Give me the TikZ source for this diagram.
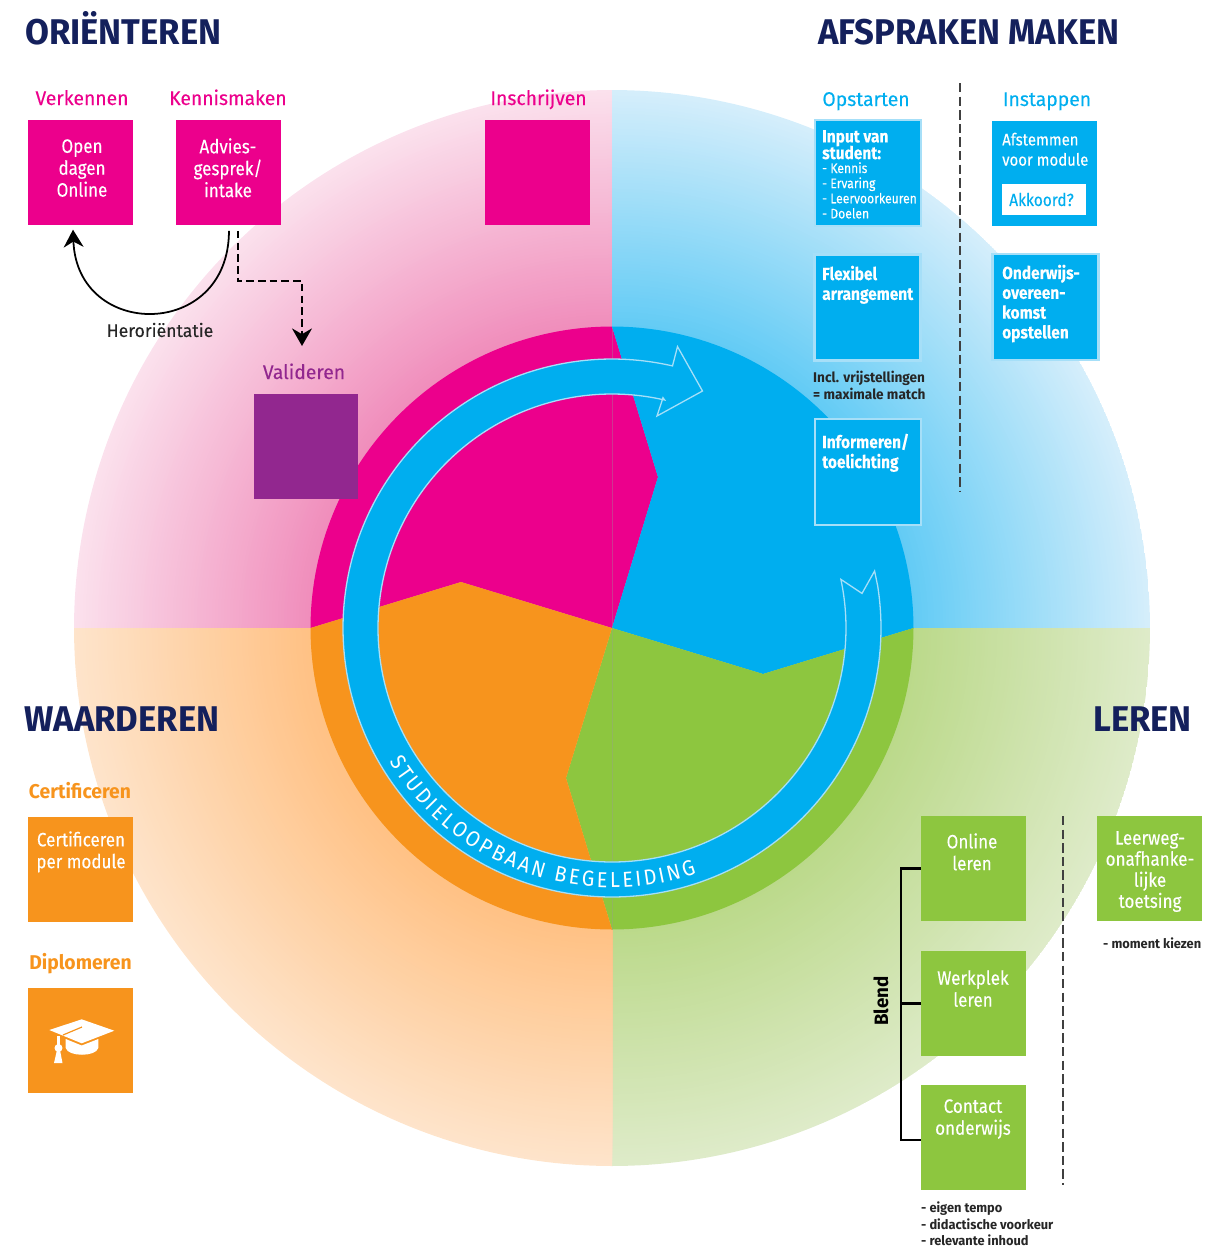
\documentclass[tikz,border=0pt]{standalone}
\usepackage{fontspec}
\setmainfont[FakeStretch=0.88,FakeBold=0.15]{Fira Sans}
\newfontfamily\widef[FakeStretch=0.97,FakeBold=0.2]{Fira Sans}
\newfontfamily\ringf[FakeStretch=0.92]{Fira Sans}
\newfontfamily\wideb[FakeStretch=0.97]{Fira Sans Bold}
\usetikzlibrary{decorations.text,arrows.meta}
\definecolor{pk}{HTML}{EC008C}
\definecolor{bl}{HTML}{00AEEF}
\definecolor{gr}{HTML}{8DC63F}
\definecolor{og}{HTML}{F7941D}
\definecolor{pu}{HTML}{92278F}
\definecolor{nv}{HTML}{14205C}
\definecolor{bd}{HTML}{A6DFF8}
\definecolor{pka}{HTML}{F08DBB}\definecolor{pkb}{HTML}{FBE1ED}
\definecolor{bla}{HTML}{62CBF5}\definecolor{blb}{HTML}{D5EEFB}
\definecolor{gra}{HTML}{BBD98A}\definecolor{grb}{HTML}{DEEBC9}
\definecolor{oga}{HTML}{FFC184}\definecolor{ogb}{HTML}{FEE4CB}
\newcommand\fz[2]{\fontsize{#1}{#2}\selectfont}
\tikzset{
 box/.style={minimum width=89.6pt,minimum height=89.6pt,inner sep=0pt,outer sep=0pt},
 bbox/.style={box,fill=bl,draw=bd,line width=2.2pt,minimum width=90.4pt,minimum height=90.4pt},
 ttl/.style={font=\fz{30.5}{32}\wideb,text=nv,inner sep=0pt,anchor=base west},
 lab/.style={font=\fz{17}{19}\widef,inner sep=0pt,anchor=base},
 wt/.style={text=white,inner sep=0pt,align=center,anchor=north,font=\fz{16.5}{18.7}},
 wl/.style={text=white,inner sep=0pt,align=left,anchor=north west,font=\fz{15}{17}\bfseries},
 sm/.style={inner sep=0pt,align=left,anchor=north west,font=\fz{12}{14.5}\wideb,text=black!85},
 dsh/.style={draw=black!75,line width=0.9pt,dash pattern=on 8pt off 3.6pt},
 brk/.style={draw=black,line width=2pt},
 arr/.style={-{Stealth[length=15pt,width=17pt]},line width=1.5pt},
}
\begin{document}
\begin{tikzpicture}[x=0.03cm,y=-0.03cm]
\useasboundingbox (0,0) rectangle (1226,1248);
% quadrants: radial fade drawn as concentric discs
\def\Q#1#2#3#4{\begin{scope}\clip (612,628) -- plot[domain=#1:#2,samples=90] ({612+538*cos(\x)},{628+538*sin(\x)}) -- cycle;
 \foreach \i in {0,...,79}{\pgfmathsetmacro\rr{(538-\i*3)*0.8536}\pgfmathsetmacro\pp{100*\i/79}
  \fill[#3!\pp!#4] (612,628) circle[radius=\rr pt];}\end{scope}}
\Q{180}{270}{pka}{pkb}
\Q{270}{360}{bla}{blb}
\Q{0}{90}{gra}{grb}
\Q{90}{180}{oga}{ogb}
% pinwheel
\fill[pk] (612,628) -- (461,582) -- plot[domain=180:270,samples=70] ({612+301.5*cos(\x)},{628+301.5*sin(\x)}) -- (658,477) -- cycle;
\fill[bl] (612,628) -- (658,477) -- plot[domain=270:360,samples=70] ({612+301.5*cos(\x)},{628+301.5*sin(\x)}) -- (763,674) -- cycle;
\fill[gr] (612,628) -- (763,674) -- plot[domain=0:90,samples=70] ({612+301.5*cos(\x)},{628+301.5*sin(\x)}) -- (566,778) -- cycle;
\fill[og] (612,628) -- (566,778) -- plot[domain=90:180,samples=70] ({612+301.5*cos(\x)},{628+301.5*sin(\x)}) -- (461,582) -- cycle;
\draw[black!40,opacity=.35,line width=.3pt] (612,328) -- (612,930);
% ring arrow
\draw[fill=bl,draw=bd,line width=1.1pt,line join=miter]
 (874.6,571) -- plot[domain=-9:283,samples=240] ({612+269*cos(\x)},{628+269*sin(\x)})
 -- (677.5,346.6) -- (702.5,391) -- (657,416) -- (663,397.7)
 -- plot[domain=283:-12,samples=240] ({612+234*cos(\x)},{628+234*sin(\x)})
 -- (862,593.4) -- cycle;
\path[decorate,decoration={text along path,text align={fit to path},
  text={|\fz{18.5}{20}\ringf\color{white}|STUDIELOOPBAAN BEGELEIDING}}]
  plot[domain=149:71,samples=100] ({612+259.5*cos(\x)},{628+259.5*sin(\x)});
% titles
\node[ttl] (t1) at (25,44) {ORIËNTEREN};
\node[ttl] (t2) at (818,44) {AFSPRAKEN MAKEN};
\node[ttl] (t3) at (24,731) {WAARDEREN};
\node[ttl] (t4) at (1093,731) {LEREN};
% pink
\node[lab,text=pk] (l1) at (82,105) {Verkennen};
\node[lab,text=pk] (l2) at (228,105) {Kennismaken};
\node[lab,text=pk] (l3) at (538.5,105) {Inschrijven};
\node[box,fill=pk] (open) at (80.5,172.5) {};
\node[box,fill=pk] (adv) at (228.5,172.5) {};
\node[box,fill=pk] (ins) at (537.5,172.5) {};
\node[wt] (opent) at (82,139) {Open\\dagen\\Online};
\node[wt] (advt) at (228,138) {Advies-\\gesprek/\\intake};
\node[lab,text=pu] (l4) at (304,379) {Valideren};
\node[box,fill=pu] (val) at (306,446.5) {};
\draw[arr] ([xshift=0.4pt,yshift=-5pt]adv.south) .. controls (229,340) and (77,340) .. ([xshift=-6.4pt,yshift=-4pt]open.south);
\node[inner sep=0pt,font=\fz{15.5}{17}\widef,text=black!85] (her) at (160,330) {Heroriëntatie};
\coordinate (dend) at (302,346);
\draw[-{Stealth[length=15pt,width=17pt]},line width=1.6pt,dash pattern=on 6.5pt off 3.5pt] ([xshift=8pt,yshift=-5pt]adv.south) |- (270,281) -| (dend);
% blue
\node[lab,text=bl] (l5) at (866,106) {Opstarten};
\node[lab,text=bl] (l6) at (1047,106) {Instappen};
\node[bbox] (inp) at (868,173) {};
\node[wl,font=\fz{15}{13.4}\bfseries] (inpt) at (822,130) {Input van\\[-1.5pt]student:};
\node[wl,font=\fz{11.8}{12.9}] (inps) at (822,162) {- Kennis\\- Ervaring\\- Leervoorkeuren\\- Doelen};
\node[bbox] (fle) at (867.5,307.5) {};
\node[wl] (flet) at (822,265.5) {Flexibel\\arrangement};
\node[sm] (incl) at (813,371) {Incl. vrijstellingen\\= maximale match};
\node[bbox] (inf) at (868,472) {};
\node[wl] (inft) at (822,433.5) {Informeren/\\toelichting};
\node[box,fill=bl] (afs) at (1044.5,173.5) {};
\node[wl,font=\fz{14.5}{17.2}\mdseries] (afst) at (1002,132.5) {Afstemmen\\voor module};
\node[minimum width=71.7pt,minimum height=26.5pt,inner sep=0pt,fill=white] (akk) at (1044,199.5) {};
\node[inner sep=0pt,text=bl,font=\fz{15}{17},anchor=west] (akkt) at (1009,199.5) {Akkoord?};
\node[bbox] (ond) at (1045.5,307) {};
\node[wl,font=\fz{15}{16.9}\bfseries] (ondt) at (1002,264.5) {Onderwijs-\\overeen-\\komst\\opstellen};
\draw[dsh] (960,83) -- (960,492);
% orange
\node[lab,text=og,font=\fz{17}{19}\wideb] (l7) at (80,798) {Certificeren};
\node[box,fill=og] (cer) at (80.5,869.5) {};
\node[wt] (cert) at (81,831) {Certificeren\\per module};
\node[lab,text=og,font=\fz{17}{19}\wideb] (l8) at (80.5,969) {Diplomeren};
\node[box,fill=og] (dip) at (80.5,1040.5) {};
\fill[white] (49.3,1030) -- (81.7,1019.3) -- (114.3,1030.7) -- (81.7,1043.3) -- cycle;
\fill[white] (65.7,1039) -- (81.7,1045.5) -- (98.3,1039) -- (98.3,1048) .. controls (96,1057) and (68,1057) .. (65.7,1048) -- cycle;
\draw[og,line width=1pt] (63,1035) -- (82,1027);
\fill[white] (57,1036) rectangle (60,1050);
\fill[white] (58.5,1048) circle[radius=3.4pt];
\fill[white] (57,1050) -- (60,1050) -- (62.5,1063) -- (54,1063) -- cycle;
% green
\node[box,fill=gr] (onl) at (973.5,868.5) {};
\node[wt] (onlt) at (972,833) {Online\\leren};
\node[box,fill=gr] (wer) at (973.5,1003.5) {};
\node[wt] (wert) at (973,970) {Werkplek\\leren};
\node[box,fill=gr] (con) at (973.5,1137.5) {};
\node[wt] (cont) at (973,1099) {Contact\\onderwijs};
\node[box,fill=gr] (lee) at (1149.5,868.5) {};
\node[wt,font=\fz{16.5}{18}] (leet) at (1150,831) {Leerweg-\\onafhanke-\\lijke\\toetsing};
\node[sm,font=\fz{11.3}{14}\wideb] (mom) at (1103,937.5) {- moment kiezen};
\node[sm,font=\fz{11.3}{13.7}\wideb] (eig) at (921,1202) {- eigen tempo\\- didactische voorkeur\\- relevante inhoud};
\coordinate (bt) at (901,868.5);
\coordinate (bm) at (901,1003.5);
\coordinate (bb) at (901,1140);
\draw[brk] (onl.west) -- (bt) -- (bb) -- (con.west |- bb);
\draw[brk] (wer.west) -- (bm);
\node[rotate=90,inner sep=0pt,font=\fz{16.5}{18}\wideb,text=black] (ble) at (881,1001) {Blend};
\draw[dsh] (1063,816) -- (1063,1185);
\end{tikzpicture}
\end{document}
